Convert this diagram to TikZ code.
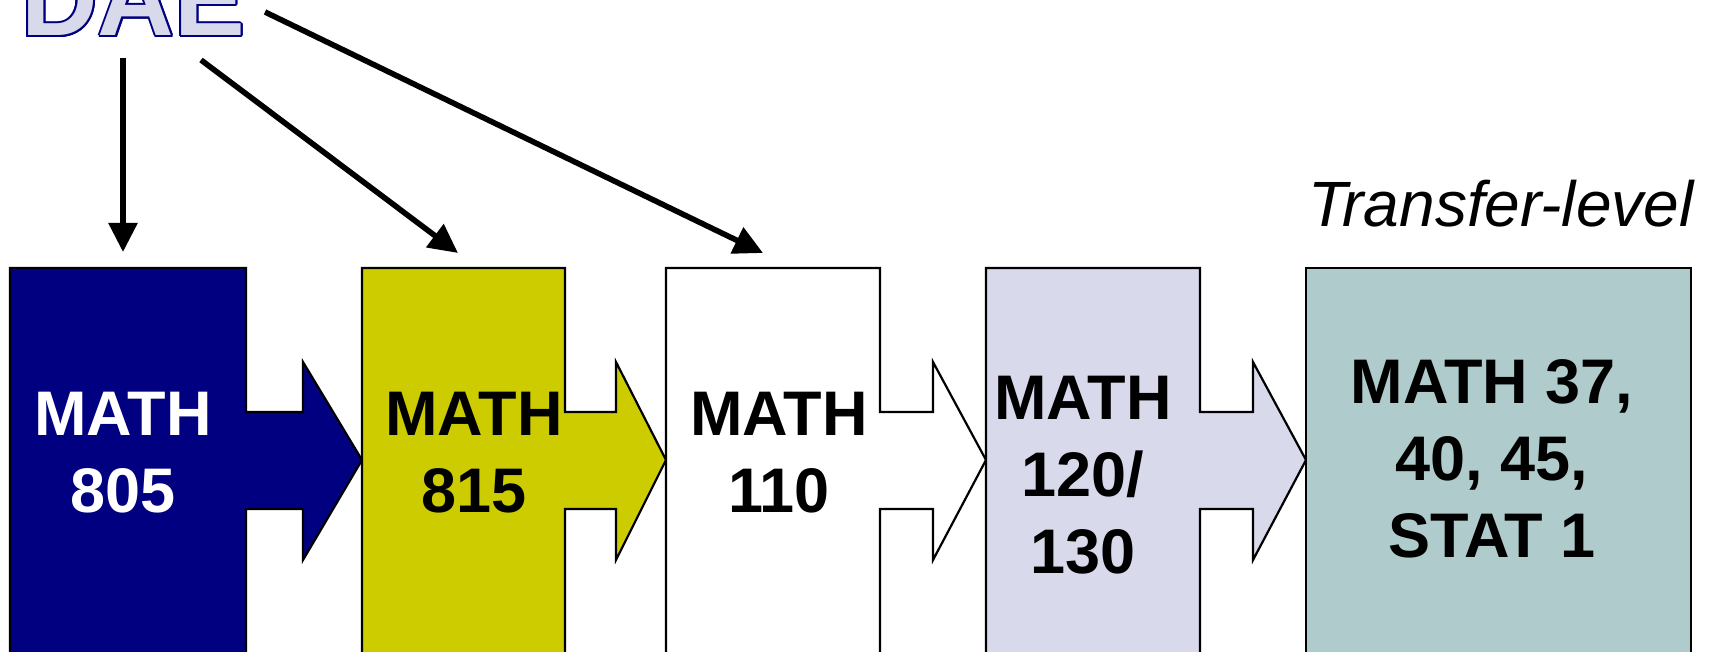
\documentclass[tikz,border=0pt]{standalone}
\usepackage{fontspec}
\setmainfont{Liberation Sans}
\usepackage{contour}
\contourlength{1pt}
\usetikzlibrary{arrows.meta}
\definecolor{navyb}{HTML}{000080}
\definecolor{olivey}{HTML}{CCCC00}
\definecolor{lav}{HTML}{D9D9EC}
\definecolor{tealg}{HTML}{B0CBCB}
\newcommand\boxarrow[5]{\path[shapebox,fill=#5] (#1,268) -- (#2,268) -- (#2,412) -- (#3,412) -- (#3,362) -- (#4,460) -- (#3,560) -- (#3,509) -- (#2,509) -- (#2,700) -- (#1,700) -- cycle;}
\begin{document}
\begin{tikzpicture}[x=0.5pt,y=-0.5pt,
  shapebox/.style={draw=black,line width=1.1pt,line join=miter},
  lbl/.style={font=\fontsize{31.5}{38.5}\selectfont\bfseries, align=center, inner sep=0pt},
  conn/.style={line width=2.8pt,-{Triangle[width=14pt,length=14.5pt]}}]
\useasboundingbox (0,0) rectangle (1714,652);
\clip (0,0) rectangle (1714,652);
% boxes with arrows
\boxarrow{10}{246}{303}{362}{navyb}
\boxarrow{362}{565}{616}{666}{olivey}
\boxarrow{666}{880}{933}{986}{white}
\boxarrow{986}{1200}{1253}{1306}{lav}
\path[shapebox,fill=tealg] (1306,268) rectangle (1691,700);
% labels
\node[lbl,text=white] (m805) at (123,453) {MATH\\805};
\node[lbl] (m815) at (474,453) {MATH\\815};
\node[lbl] (m110) at (779,453) {MATH\\110};
\node[lbl] (m120) at (1083,475) {MATH\\120/\\130};
\node[lbl] (mtr) at (1492,459) {MATH 37,\\40, 45,\\STAT 1};
\node[font=\fontsize{32}{36}\selectfont\itshape, anchor=base east, inner sep=0pt] (tl) at (1694,227) {Transfer-level};
% DAE
\node[anchor=base west, inner sep=0pt, font=\fontsize{53}{58}\selectfont\bfseries] (dae) at (21,36) {\contour{navyb}{\textcolor{lav}{DAE}}};
% connectors
\coordinate (s1) at (123,58);  \coordinate (e1) at (123,252);
\coordinate (s2) at (201,60);  \coordinate (e2) at (458,253);
\coordinate (s3) at (265,12);  \coordinate (e3) at (763,253);
\draw[conn] (s1) -- (e1);
\draw[conn] (s2) -- (e2);
\draw[conn] (s3) -- (e3);
\end{tikzpicture}
\end{document}
